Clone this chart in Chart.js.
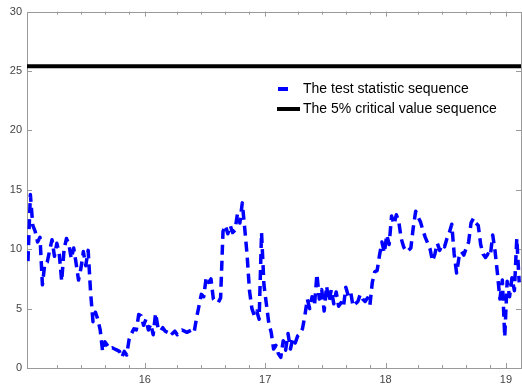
<!DOCTYPE html>
<html>
<head>
<meta charset="utf-8">
<title>Test statistic vs. 5% critical value</title>
<script src="https://cdn.jsdelivr.net/npm/chart.js@4/dist/chart.umd.min.js"></script>
<style>
  html, body { margin: 0; padding: 0; background: #fff; }
  #wrap { width: 522px; height: 388px; }
</style>
</head>
<body>
<div id="wrap"><canvas id="chart" width="522" height="388"></canvas></div>
<script>
// Observation dates (fractional years, two-digit labels on the axis)
const dates = [
  15.03,15.05,15.07,15.09,15.11,15.13,15.15,15.17,15.19,15.21,
  15.23,15.25,15.27,15.29,15.31,15.33,15.35,15.37,15.39,15.41,
  15.43,15.45,15.47,15.49,15.51,15.53,15.55,15.57,15.59,15.61,
  15.63,15.65,15.67,15.69,15.71,15.73,15.75,15.77,15.79,15.81,
  15.83,15.85,15.87,15.89,15.91,15.93,15.95,15.97,15.99,16.01,
  16.03,16.05,16.07,16.09,16.11,16.13,16.15,16.17,16.19,16.21,
  16.23,16.25,16.27,16.29,16.31,16.33,16.35,16.37,16.39,16.41,
  16.43,16.45,16.47,16.49,16.51,16.53,16.55,16.57,16.59,16.61,
  16.63,16.65,16.67,16.69,16.71,16.73,16.75,16.77,16.79,16.81,
  16.83,16.85,16.87,16.89,16.91,16.93,16.95,16.97,16.99,17.01,
  17.03,17.05,17.07,17.09,17.11,17.13,17.15,17.17,17.19,17.21,
  17.23,17.25,17.27,17.29,17.31,17.33,17.35,17.37,17.39,17.41,
  17.43,17.45,17.47,17.49,17.51,17.53,17.55,17.57,17.59,17.61,
  17.63,17.65,17.67,17.69,17.71,17.73,17.75,17.77,17.79,17.81,
  17.83,17.85,17.87,17.89,17.91,17.93,17.95,17.97,17.99,18.01,
  18.03,18.05,18.07,18.09,18.11,18.13,18.15,18.17,18.19,18.21,
  18.23,18.25,18.27,18.29,18.31,18.33,18.35,18.37,18.39,18.41,
  18.43,18.45,18.47,18.49,18.51,18.53,18.55,18.57,18.59,18.61,
  18.63,18.65,18.67,18.69,18.71,18.73,18.75,18.77,18.79,18.81,
  18.83,18.85,18.87,18.89,18.91,18.93,18.95,18.97,18.99,19.01,
  19.03,19.05,19.07,19.09,19.11
];

// Test statistic at each date
const testStatistic = [
  9.0,14.6,12.0,11.5,10.6,11.0,7.0,8.8,8.9,9.9,
  10.8,9.4,10.5,9.6,7.3,10.0,10.9,10.4,9.2,10.1,
  8.8,7.4,8.4,9.8,8.6,9.9,6.4,3.9,4.7,4.1,
  3.2,1.4,2.2,1.9,1.6,1.7,1.6,1.5,1.4,0.9,
  1.4,1.1,2.4,2.9,3.3,3.2,4.5,4.4,3.6,4.1,
  3.2,3.7,2.8,4.6,3.4,3.1,3.4,3.1,3.0,3.2,
  2.9,3.1,2.8,3.0,3.2,3.1,3.0,3.1,3.2,3.0,
  4.2,5.2,6.2,6.0,7.6,7.2,7.5,5.8,5.6,5.5,
  5.9,11.5,12.0,11.3,12.0,11.4,11.6,13.0,12.2,13.9,
  11.8,9.5,6.5,5.0,4.4,4.8,4.1,11.4,7.0,5.4,
  3.8,3.0,1.6,1.9,1.2,0.9,2.3,1.5,2.9,1.6,
  2.5,2.1,2.7,2.9,3.3,4.4,5.8,5.0,6.0,5.3,
  7.9,5.8,6.6,4.8,6.9,5.6,6.6,5.4,6.4,5.2,
  5.5,5.1,6.8,6.1,6.4,5.2,5.4,5.6,6.2,5.8,
  5.6,5.9,5.3,7.2,8.1,8.2,9.5,10.6,9.7,11.2,
  10.4,12.8,12.1,12.9,12.3,10.9,10.2,9.8,9.9,10.1,
  11.8,13.2,12.7,12.3,11.6,11.0,10.5,10.0,9.0,9.6,
  10.5,9.9,10.4,10.2,10.9,11.4,12.1,9.6,8.0,9.3,
  9.8,9.5,10.1,10.6,12.2,12.6,12.2,12.0,10.4,9.6,
  9.3,9.6,9.4,11.2,9.8,7.9,5.8,7.4,2.6,7.3,
  6.0,7.6,6.5,10.9,7.2
];

// 5% critical value (constant over the sample)
const criticalValue = 25.4;

// Axis limits and ticks
const xLimits = [15.022, 19.125];
const yLimits = [0, 30];
const xMajorTicks = [16, 17, 18, 19];
const xMinorTicks = [15.27, 15.47, 15.67, 15.87, 16.27, 16.47, 16.67, 16.87,
                     17.27, 17.47, 17.67, 17.87, 18.27, 18.47, 18.67, 18.87];
const yTicks = [0, 5, 10, 15, 20, 25, 30];

const seriesNames = ['The test statistic sequence', 'The 5% critical value sequence'];

const FONT = "'Liberation Sans', Arial, Helvetica, sans-serif";
const AXIS_COLOR = '#9a9a9a';
const TEXT_COLOR = '#444444';

const statPoints = dates.map((d, i) => ({ x: d, y: testStatistic[i] }));
const critPoints = [xLimits[0], xLimits[1]].map(d => ({ x: d, y: criticalValue }));

// Box frame with inward tick marks on all four sides, plus an in-plot legend
const framePlugin = {
  id: 'frameAndLegend',
  beforeDatasetsDraw(chart) {
    const { ctx, chartArea: a, scales } = chart;
    ctx.save();
    ctx.strokeStyle = AXIS_COLOR;
    ctx.lineWidth = 1;
    ctx.strokeRect(Math.round(a.left) + 0.5, Math.round(a.top) + 0.5,
                   Math.round(a.right - a.left), Math.round(a.bottom - a.top));
    ctx.beginPath();
    const tickX = (v, len) => {
      const px = Math.round(scales.x.getPixelForValue(v)) + 0.5;
      ctx.moveTo(px, a.bottom); ctx.lineTo(px, a.bottom - len);
      ctx.moveTo(px, a.top); ctx.lineTo(px, a.top + len);
    };
    xMajorTicks.forEach(v => tickX(v, 5));
    xMinorTicks.forEach(v => tickX(v, 3));
    yTicks.forEach(v => {
      const py = Math.round(scales.y.getPixelForValue(v)) + 0.5;
      ctx.moveTo(a.left, py); ctx.lineTo(a.left + 5, py);
      ctx.moveTo(a.right, py); ctx.lineTo(a.right - 5, py);
    });
    ctx.stroke();
    ctx.restore();
  },
  afterDatasetsDraw(chart) {
    const { ctx } = chart;
    const x0 = 277, x1 = 300, tx = 303, y1 = 89, y2 = 109;
    ctx.save();
    ctx.lineWidth = 4;
    ctx.lineCap = 'butt';
    ctx.strokeStyle = '#0000ff';
    ctx.beginPath(); ctx.moveTo(x0 + 1, y1); ctx.lineTo(x0 + 11, y1); ctx.stroke();
    ctx.strokeStyle = '#000000';
    ctx.beginPath(); ctx.moveTo(x0, y2); ctx.lineTo(x1, y2); ctx.stroke();
    ctx.fillStyle = '#000000';
    ctx.font = '14px ' + FONT;
    ctx.textBaseline = 'middle';
    ctx.textAlign = 'left';
    ctx.fillText(seriesNames[0], tx, y1);
    ctx.fillText(seriesNames[1], tx, y2);
    ctx.restore();
  }
};

new Chart(document.getElementById('chart'), {
  type: 'line',
  data: {
    datasets: [
      {
        label: seriesNames[0],
        data: statPoints,
        borderColor: '#0000ff',
        borderWidth: 3.5,
        borderDash: [10, 6],
        borderCapStyle: 'butt',
        borderJoinStyle: 'round',
        pointRadius: 0,
        tension: 0,
        fill: false
      },
      {
        label: seriesNames[1],
        data: critPoints,
        borderColor: '#000000',
        borderWidth: 4,
        pointRadius: 0,
        tension: 0,
        fill: false
      }
    ]
  },
  options: {
    responsive: false,
    animation: false,
    devicePixelRatio: 1,
    layout: { padding: { top: 8, right: 1, left: 0, bottom: 0 } },
    plugins: {
      legend: { display: false },
      tooltip: { enabled: false }
    },
    scales: {
      x: {
        type: 'linear',
        min: xLimits[0],
        max: xLimits[1],
        afterBuildTicks: s => { s.ticks = xMajorTicks.map(v => ({ value: v })); },
        afterFit: s => { s.height = 20; },
        grid: { display: false, drawTicks: false },
        border: { display: false },
        ticks: {
          padding: 5,
          color: TEXT_COLOR,
          font: { family: FONT, size: 11 },
          maxRotation: 0,
          callback: v => String(v)
        }
      },
      y: {
        min: yLimits[0],
        max: yLimits[1],
        afterBuildTicks: s => { s.ticks = yTicks.map(v => ({ value: v })); },
        afterFit: s => { s.width = 27; },
        grid: { display: false, drawTicks: false },
        border: { display: false },
        ticks: {
          padding: 5,
          color: TEXT_COLOR,
          font: { family: FONT, size: 11 },
          callback: v => String(v)
        }
      }
    }
  },
  plugins: [framePlugin]
});
</script>
</body>
</html>
